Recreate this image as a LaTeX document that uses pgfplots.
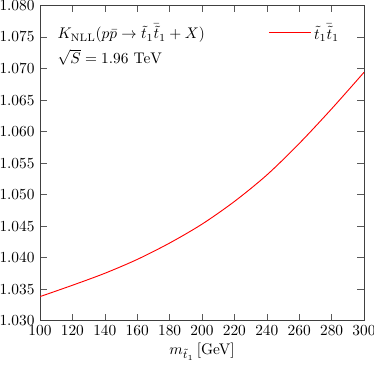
\documentclass[border=0pt]{standalone}
\usepackage{pgfplots}
\pgfplotsset{compat=1.18}

\pgfplotstableread{
m K
100 1.0338
120 1.0356
140 1.0375
160 1.0397
180 1.0423
200 1.0453
220 1.0489
240 1.0531
260 1.0581
280 1.0636
300 1.0694
}\kfactor

\begin{document}
\begin{tikzpicture}
\begin{axis}[
    scale only axis,
    width=210.6pt, height=204.75pt,
    xmin=100, xmax=300,
    ymin=1.030, ymax=1.080,
    xtick={100,120,...,300},
    ytick={1.030,1.035,...,1.0801},
    yticklabel style={/pgf/number format/.cd, fixed, fixed zerofill, precision=3},
    xticklabel style={/pgf/number format/.cd, fixed, precision=0},
    scaled y ticks=false,
    tick align=inside,
    axis line style={black!75},
    tick style={black!65},
    xlabel={$m_{\tilde{t}_1}\,$[GeV]},
    xlabel style={yshift=2pt},
    legend style={draw=none, fill=none, at={(0.69,0.913)}, anchor=west},
    legend cell align=left,
    legend image code/.code={\draw[#1] (0cm,0cm) -- (0.95cm,0cm);},
]
\addplot[red, line width=0.6pt, smooth, tension=0.5] table[x=m, y=K] {\kfactor};
\addlegendentry{$\tilde{t}_1\bar{\tilde{t}}_1$}
\node[anchor=west] at (axis cs:107.5,1.0756) {$K_{\mathrm{NLL}}(p\bar{p}\to\tilde{t}_1\bar{\tilde{t}}_1+X)$};
\node[anchor=west] at (axis cs:107.5,1.0718) {$\sqrt{S}=1.96\ \mathrm{TeV}$};
\coordinate (sw) at (rel axis cs:0,0);
\coordinate (ne) at (rel axis cs:1,1);
\end{axis}
\pgfresetboundingbox
\path ([shift={(-26pt,-30.9pt)}]sw) rectangle ([shift={(6.5pt,3.6pt)}]ne);
\end{tikzpicture}
\end{document}
